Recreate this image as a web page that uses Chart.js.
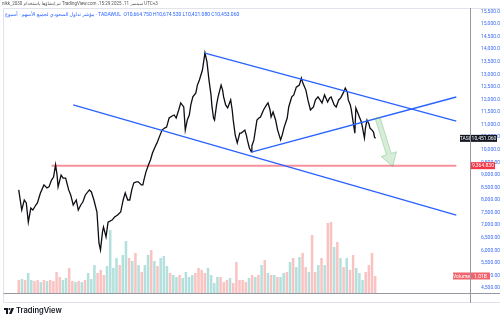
<!DOCTYPE html>
<html>
<head>
<meta charset="utf-8">
<script src="https://cdn.jsdelivr.net/npm/chart.js@4.4.0/dist/chart.umd.min.js"></script>
<style>
body { margin: 0; background: #fff; font-family: Roboto, "DejaVu Sans", sans-serif; }
#wrap { position: relative; width: 500px; height: 323px; overflow: hidden; }
canvas { position: absolute; left: 0; top: 0; }
.hdr1 { position: absolute; left: 2px; top: 1px; font-size: 4.5px; color: #555; white-space: nowrap; }
.hdr2 { position: absolute; left: 5px; top: 11px; font-size: 5px; color: #2962ff; white-space: nowrap; }
.logo { position: absolute; left: 4px; top: 306px; display: flex; align-items: center; gap: 2px; }
.logo span { font-family: Inter, Roboto, sans-serif; font-weight: 600; font-size: 7.5px; color: #131722; }
</style>
</head>
<body>
<div id="wrap">
  <canvas id="tasiChart" width="500" height="323"></canvas>
  <div class="hdr1" dir="rtl">UTC+3 سبتمبر 11، 2025 15:29، TradingView.com تم إنشاؤها باستخدام nikk_2030</div>
  <div class="hdr2"><bdi>مؤشر تداول السعودي لجميع الأسهم · أسبوع</bdi> · TADAWUL &nbsp;O10,664.750 H10,674.530 L10,421.080 C10,453.060</div>
  <div class="logo">
    <svg width="10" height="6" viewBox="0 0 20 12">
      <path d="M0 0H8V12H4V4H0Z" fill="#131722"/>
      <circle cx="11" cy="2" r="2" fill="#131722"/>
      <path d="M15 0H20L15 12H10Z" fill="#131722"/>
    </svg>
    <span>TradingView</span>
  </div>
</div>
<script>
// weekly TASI (decimal year -> close)
const priceDates = [
  2018.59, 2018.65, 2018.70, 2018.74, 2018.78, 2018.83, 2018.87, 2018.93, 2018.96, 2019.02,
  2019.09, 2019.15, 2019.19, 2019.24, 2019.28, 2019.32, 2019.35, 2019.37, 2019.43, 2019.47,
  2019.52, 2019.58, 2019.62, 2019.67, 2019.73, 2019.77, 2019.82, 2019.86, 2019.91, 2019.99,
  2020.03, 2020.08, 2020.14, 2020.18, 2020.21, 2020.25, 2020.27, 2020.31, 2020.32, 2020.36,
  2020.44, 2020.49, 2020.55, 2020.61, 2020.66, 2020.70, 2020.75, 2020.79, 2020.83, 2020.87,
  2020.92, 2020.96, 2021.02, 2021.05, 2021.07, 2021.11, 2021.16, 2021.20, 2021.24, 2021.30,
  2021.33, 2021.39, 2021.43, 2021.48, 2021.52, 2021.57, 2021.63, 2021.67, 2021.71, 2021.76,
  2021.80, 2021.86, 2021.89, 2021.93, 2021.97, 2022.00, 2022.04, 2022.10, 2022.13, 2022.17,
  2022.23, 2022.26, 2022.28, 2022.32, 2022.36, 2022.40, 2022.42, 2022.45, 2022.47, 2022.51,
  2022.54, 2022.60, 2022.63, 2022.65, 2022.69, 2022.73, 2022.79, 2022.82, 2022.84, 2022.88,
  2022.92, 2022.97, 2023.00, 2023.07, 2023.10, 2023.12, 2023.16, 2023.20, 2023.21, 2023.25,
  2023.31, 2023.35, 2023.38, 2023.44, 2023.50, 2023.53, 2023.57, 2023.59, 2023.63, 2023.68,
  2023.72, 2023.78, 2023.81, 2023.85, 2023.91, 2023.94, 2024.00, 2024.04, 2024.09, 2024.15,
  2024.19, 2024.22, 2024.28, 2024.32, 2024.37, 2024.43, 2024.47, 2024.52, 2024.56, 2024.60,
  2024.65, 2024.71, 2024.75, 2024.78, 2024.84, 2024.88, 2024.93, 2024.97, 2025.03, 2025.06,
  2025.10, 2025.12, 2025.16, 2025.18, 2025.21, 2025.25, 2025.27, 2025.31, 2025.34, 2025.38,
  2025.40, 2025.44, 2025.46, 2025.49, 2025.53, 2025.55, 2025.59, 2025.62, 2025.64, 2025.66
];
const priceClose = [
  8400, 7600, 8000, 7880, 7120, 7680, 7600, 7800, 7880, 8280,
  8600, 8480, 8520, 8790, 8910, 9400, 8990, 8520, 8990, 8870,
  8870, 8400, 8200, 7800, 8000, 7600, 7800, 7920, 8200, 8400,
  8320, 8000, 7520, 6290, 6010, 6730, 6920, 6610, 6530, 7120,
  7200, 7320, 7400, 7520, 8000, 8280, 8000, 8000, 8400, 8680,
  8720, 8720, 8600, 8600, 8790, 9110, 9390, 9590, 9870, 10150,
  10270, 10580, 10780, 10860, 10900, 11260, 11340, 11380, 11260, 11580,
  11860, 11700, 10780, 11180, 11380, 11780, 12100, 12260, 12570, 12770,
  13170, 13570, 13850, 13490, 12770, 12180, 11700, 11260, 11180, 11780,
  12100, 12570, 12370, 12100, 11780, 11660, 11980, 11580, 11180, 10580,
  10270, 10660, 10660, 10780, 10580, 10390, 10070, 9910, 10150, 10390,
  11180, 11260, 11300, 11580, 11780, 11860, 11580, 11300, 11500, 11180,
  10780, 10390, 10580, 10900, 11260, 11700, 12100, 12180, 12490, 12570,
  12850, 12650, 12370, 11980, 11580, 11700, 11980, 12100, 11980, 11860,
  12180, 11900, 12060, 12100, 11780, 11700, 11980, 12060, 12300, 12450,
  12300, 11980, 11780, 11580, 11180, 10660, 11660, 11460, 11300, 11100,
  10900, 10470, 10860, 11180, 11020, 10860, 10780, 10700, 10500, 10451.06
];

// volume in millions, one bar per ~3 weeks starting mid 2018
const volStart = 2018.59;
const volStep = 1 / 16;
const volumes = [
  770, 830, 770, 1190, 770, 710, 770, 650, 770, 710,
  770, 710, 1250, 950, 770, 890, 1490, 710, 650, 710,
  650, 770, 1190, 830, 1660, 1190, 1370, 1070, 1600, 3740,
  1490, 2080, 1660, 2260, 3090, 2080, 1900, 2380, 1660, 1250,
  1660, 2260, 2550, 1900, 1600, 2080, 2200, 1600, 1190, 1070,
  950, 1070, 890, 1250, 950, 1070, 1190, 1490, 1370, 1190,
  1490, 1070, 590, 950, 950, 650, 770, 890, 590, 1840,
  770, 770, 650, 890, 1070, 950, 1070, 1660, 1960, 1190,
  1070, 1070, 950, 950, 1190, 1250, 1840, 2080, 1540, 2140,
  2380, 1540, 1250, 3450, 1250, 1660, 2080, 1660, 4160, 4220,
  2730, 3030, 2080, 1540, 2080, 1370, 2260, 1490, 1190, 770,
  1250, 1660, 2380, 1010
];
// u = up week (teal), d = down week (red)
const volDir = 'duduuddududdddu' +
  'uddududuuudddu' +
  'uuuduudududuududuuuduudu' +
  'uuudddd' +
  'uuuudddudddddud' +
  'ududududuududuudduddudu' +
  'ddudududduuudd';

// trend lines drawn on the chart: [year, value] pairs
const upperLine = [[2022.28, 13846], [2027.26, 11140]];
const risingLine = [[2023.20, 9908], [2027.26, 12096]];
const lowerLine = [[2019.67, 11778], [2027.26, 7400]];
const supportLevel = 9364.83;
const supportStart = 2019.24;
const arrowFrom = [2025.70, 11270];
const arrowTo = [2026.00, 9330];

const xTickValues = [2019, 2019.5, 2020, 2020.5, 2021, 2021.5, 2022, 2022.5, 2023, 2023.5,
  2024, 2024.5, 2025, 2025.5, 2026, 2026.5, 2027];
const xTickLabels = ['2019', 'يوليو', '2020', 'يوليو', '2021', 'يوليو', '2022', 'يوليو', '2023', 'يوليو',
  '2024', 'يوليو', '2025', 'يوليو', '2026', 'يوليو', '2027'];
const yTickValues = [4500, 5000, 5500, 6000, 6500, 7000, 7500, 8000, 8500, 9000, 9500, 10000,
  10500, 11000, 11500, 12000, 12500, 13000, 13500, 14000, 14500, 15000, 15500];

const tickBlue = '#3d6cf2';
const fmt = v => v.toLocaleString('en-US', { minimumFractionDigits: 3, maximumFractionDigits: 3 });

function toPoints(pairs) {
  return pairs.map(p => ({ x: p[0], y: p[1] }));
}

const overlay = {
  id: 'overlay',
  afterDraw(chart) {
    const ctx = chart.ctx;
    const x = chart.scales.x, y = chart.scales.y, yv = chart.scales.yv;
    ctx.save();

    function seg(x1, y1, x2, y2) {
      ctx.beginPath(); ctx.moveTo(x1, y1); ctx.lineTo(x2, y2); ctx.stroke();
    }
    // pane frame
    ctx.lineWidth = 1;
    ctx.strokeStyle = '#e0e3eb';
    seg(3.5, 8.5, 500, 8.5);
    seg(3.5, 8.5, 3.5, 302.5);
    seg(3.5, 302.5, 500, 302.5);
    ctx.strokeStyle = '#9598a1';
    seg(470.5, 8, 470.5, 303);
    seg(3.5, 293.5, 500, 293.5);

    // green arrow
    const tx = x.getPixelForValue(arrowFrom[0]), ty = y.getPixelForValue(arrowFrom[1]);
    const hx = x.getPixelForValue(arrowTo[0]), hy = y.getPixelForValue(arrowTo[1]);
    const len = Math.hypot(hx - tx, hy - ty);
    const ux = (hx - tx) / len, uy = (hy - ty) / len;
    const nx = -uy, ny = ux;
    const bx = hx - ux * 13, by = hy - uy * 13;
    ctx.beginPath();
    ctx.moveTo(tx + nx * 2.5, ty + ny * 2.5);
    ctx.lineTo(bx + nx * 2.5, by + ny * 2.5);
    ctx.lineTo(bx + nx * 8, by + ny * 8);
    ctx.lineTo(hx, hy);
    ctx.lineTo(bx - nx * 8, by - ny * 8);
    ctx.lineTo(bx - nx * 2.5, by - ny * 2.5);
    ctx.lineTo(tx - nx * 2.5, ty - ny * 2.5);
    ctx.closePath();
    ctx.fillStyle = 'rgba(76,175,80,0.22)';
    ctx.fill();
    ctx.strokeStyle = 'rgba(76,175,80,0.35)';
    ctx.stroke();

    // axis label boxes
    function box(left, yc, w, bg, text) {
      ctx.fillStyle = bg;
      ctx.fillRect(left, yc - 3.5, w, 7);
      ctx.fillStyle = '#fff';
      ctx.font = '5px Roboto, sans-serif';
      ctx.textAlign = 'center';
      ctx.textBaseline = 'middle';
      ctx.fillText(text, left + w / 2, yc + 0.3);
    }
    const lastClose = priceClose[priceClose.length - 1];
    const cy = y.getPixelForValue(lastClose);
    box(460, cy, 10, '#131722', 'TASI');
    box(471, cy, 26, '#131722', fmt(lastClose));
    box(471, y.getPixelForValue(supportLevel), 24, '#f23645', fmt(supportLevel));
    const vy = yv.getPixelForValue(volumes[volumes.length - 1]);
    box(453, vy, 17, '#f0656d', 'Volume');
    box(471, vy, 19, '#f0656d', '1.01B');
    ctx.restore();
  }
};

const ctx = document.getElementById('tasiChart').getContext('2d');
new Chart(ctx, {
  type: 'line',
  data: {
    datasets: [
      {
        type: 'bar',
        data: volumes.map((v, i) => ({ x: volStart + i * volStep, y: v })),
        yAxisID: 'yv',
        backgroundColor: volumes.map((v, i) => volDir[i] === 'u' ? 'rgba(38,166,154,0.35)' : 'rgba(239,83,80,0.35)'),
        barPercentage: 0.8,
        categoryPercentage: 1,
        order: 10
      },
      {
        data: [{ x: supportStart, y: supportLevel }, { x: 2027.26, y: supportLevel }],
        borderColor: 'rgba(242,54,69,0.55)',
        borderWidth: 2,
        pointRadius: 0,
        order: 5
      },
      {
        data: priceDates.map((d, i) => ({ x: d, y: priceClose[i] })),
        borderColor: '#0c0e14',
        borderWidth: 1.3,
        pointRadius: 0,
        tension: 0,
        order: 3
      },
      { data: toPoints(upperLine), borderColor: '#2962ff', borderWidth: 1.3, pointRadius: 0, order: 1 },
      { data: toPoints(risingLine), borderColor: '#2962ff', borderWidth: 1.3, pointRadius: 0, order: 1 },
      { data: toPoints(lowerLine), borderColor: '#2962ff', borderWidth: 1.3, pointRadius: 0, order: 1 }
    ]
  },
  options: {
    responsive: false,
    animation: false,
    layout: { padding: { left: 4, top: 8, right: 0, bottom: 21 } },
    plugins: { legend: { display: false }, tooltip: { enabled: false } },
    scales: {
      x: {
        type: 'linear',
        min: 2018.57,
        max: 2027.26,
        grid: { display: false },
        border: { display: false },
        afterBuildTicks: scale => { scale.ticks = xTickValues.map(v => ({ value: v })); },
        afterFit: scale => { scale.height = 9; scale.paddingLeft = 0; scale.paddingRight = 0; },
        ticks: {
          autoSkip: false,
          maxRotation: 0,
          padding: 1,
          color: tickBlue,
          font: { size: 5, family: 'Roboto, "DejaVu Sans", sans-serif' },
          callback: (v, i) => xTickLabels[i]
        }
      },
      y: {
        position: 'right',
        min: 4300,
        max: 15636,
        grid: { display: false },
        border: { display: false },
        afterBuildTicks: scale => { scale.ticks = yTickValues.map(v => ({ value: v })); },
        afterFit: scale => { scale.width = 30; scale.paddingTop = 0; scale.paddingBottom = 0; },
        ticks: {
          autoSkip: false,
          padding: 3,
          color: tickBlue,
          font: { size: 5, family: 'Roboto, sans-serif' },
          callback: v => fmt(v)
        }
      },
      yv: {
        display: false,
        min: 0,
        max: 16930
      }
    }
  },
  plugins: [overlay]
});
</script>
</body>
</html>
